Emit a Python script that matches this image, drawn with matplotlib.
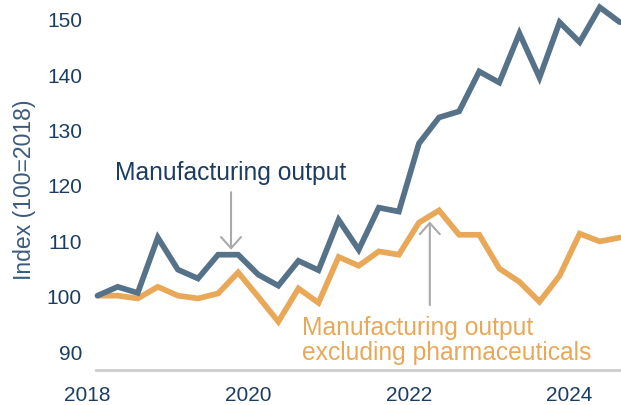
import numpy as np
import matplotlib
matplotlib.use("Agg")
import matplotlib.pyplot as plt

plt.rcParams['font.family'] = ['Liberation Sans', 'DejaVu Sans']

# quarterly index, 2018 Q1 .. 2024 Q3 (100 = 2018)
start_year = 2018
manufacturing = [100.0, 101.6, 100.5, 110.5, 104.7, 103.1, 107.4, 107.4, 103.8,
                 101.8, 106.3, 104.6, 113.7, 108.3, 115.9, 115.2, 127.5, 132.2,
                 133.3, 140.5, 138.5, 147.4, 139.4, 149.4, 145.8, 152.1, 149.4]
excl_pharma = [100.0, 100.0, 99.5, 101.6, 100.0, 99.5, 100.4, 104.2, 99.8,
               95.3, 101.3, 98.7, 107.0, 105.4, 108.0, 107.4, 113.2, 115.4,
               111.0, 111.0, 104.9, 102.5, 98.9, 103.6, 111.2, 109.8, 110.5]
x_ticks = [2018, 2020, 2022, 2024]
y_ticks = [90, 100, 110, 120, 130, 140, 150]

navy = '#1c3d62'
blue = '#567289'
orange = '#e8a858'
grey = '#aaaaaa'

x = start_year + 0.125 + 0.25 * np.arange(len(manufacturing))

fig = plt.figure(figsize=(6.21, 4.06), dpi=100)
ax = fig.add_axes([87.5 / 621, 35 / 406, 532.5 / 621, 371 / 406])

ax.plot(x, manufacturing, color=blue, lw=4.1, solid_joinstyle='miter',
        solid_capstyle='round', zorder=3, clip_on=False)
ax.plot(x, excl_pharma, color=orange, lw=4.1, solid_joinstyle='miter',
        solid_capstyle='round', zorder=2, clip_on=False)

ax.set_xlim(2018.0, 2024.627)
ax.set_ylim(86.57, 153.6)
ax.set_xticks(x_ticks)
ax.set_yticks(y_ticks)
ax.tick_params(length=0, labelsize=15, labelcolor=navy)
ax.tick_params(axis='y', pad=4)
ax.tick_params(axis='x', pad=11)

for side in ['top', 'right', 'left']:
    ax.spines[side].set_visible(False)
ax.spines['bottom'].set_color('#cccccc')
ax.spines['bottom'].set_linewidth(2)
ax.spines['bottom'].set_bounds(2018.11, 2024.627)

fig.text(25 / 621, 1 - 190 / 406, 'Index (100=2018)', rotation=90, fontsize=16.6,
         color='#3b5b7e', ha='center', va='center')

ax.text(2018.342, 121.1, 'Manufacturing output', color=navy, fontsize=17.7,
        ha='left', va='baseline')
ax.text(2020.67, 93.08, 'Manufacturing output', color=orange, fontsize=17.7,
        ha='left', va='baseline')
ax.text(2020.67, 88.56, 'excluding pharmaceuticals', color=orange, fontsize=17.7,
        ha='left', va='baseline')

arrow = dict(arrowstyle='->,head_width=0.72,head_length=0.8', color=grey, lw=1.5,
             shrinkA=0, shrinkB=0)
ax.annotate('', xy=(2019.786, 108.3), xytext=(2019.786, 118.7), arrowprops=arrow)
ax.annotate('', xy=(2022.26, 113.4), xytext=(2022.26, 98.3), arrowprops=arrow)

fig.savefig('out.png', dpi=100)
